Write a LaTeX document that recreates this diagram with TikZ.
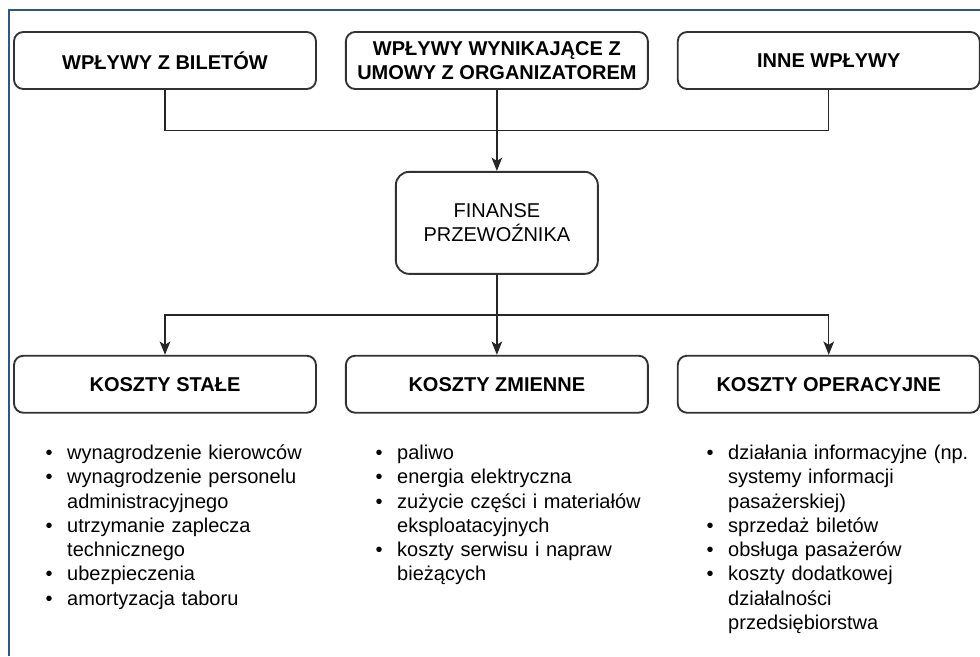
\documentclass[tikz,border=0pt]{standalone}
\usepackage{fontspec}
\setmainfont{Liberation Sans}
\usetikzlibrary{positioning,calc,arrows.meta}

\definecolor{ramka}{RGB}{45,85,140}
\definecolor{krawedz}{RGB}{50,50,50}

\newenvironment{punkty}{\begin{list}{\textbullet}{\setlength\leftmargin{17pt}\setlength\labelwidth{6pt}\setlength\labelsep{11pt}\setlength\itemsep{0pt}\setlength\parsep{0pt}\setlength\topsep{0pt}\setlength\partopsep{0pt}}}{\end{list}}

\begin{document}
\begin{tikzpicture}[x=0.75pt, y=-0.75pt, font=\fontsize{15pt}{18pt}\selectfont,
    naglowek/.style={rectangle, draw=krawedz, line width=1.4pt, rounded corners=7pt, minimum width=226.5pt, minimum height=42.75pt, inner sep=0pt, align=center, font=\fontsize{15pt}{18pt}\selectfont\bfseries},
    srodek/.style={rectangle, draw=krawedz, line width=1.4pt, rounded corners=10pt, minimum width=151.5pt, minimum height=76.5pt, inner sep=0pt, align=center},
    linia/.style={draw, line width=1.1pt, black!85},
    strzalka/.style={linia, -{Stealth[length=10pt, width=8pt, inset=2.5pt]}},
    lista/.style={anchor=north west, text width=240pt, align=left, inner sep=0pt, font=\fontsize{15pt}{18.2pt}\selectfont}]

    \useasboundingbox (0,0) rectangle (980,656);
    \draw[ramka, line width=1.1pt] (9,656) -- (9,10) -- (980,10);

    \node[naglowek] (bilety) at (165,60.5) {WPŁYWY Z BILETÓW};
    \node[naglowek, right=21pt of bilety] (umowa) {WPŁYWY WYNIKAJĄCE Z\\UMOWY Z ORGANIZATOREM};
    \node[naglowek, right=21pt of umowa] (inne) {INNE WPŁYWY};

    \node[srodek, below=60.75pt of umowa] (finanse) {FINANSE\\PRZEWOŹNIKA};

    \node[naglowek, below=60pt of finanse] (zmienne) {KOSZTY ZMIENNE};
    \node[naglowek, left=21pt of zmienne] (stale) {KOSZTY STAŁE};
    \node[naglowek, right=21pt of zmienne] (operacyjne) {KOSZTY OPERACYJNE};

    \coordinate (szyna) at ($(umowa.south)!0.5!(finanse.north)$);
    \draw[linia] (bilety.south) |- (szyna) -| (inne.south);
    \draw[strzalka] (umowa.south) -- (finanse.north);

    \coordinate (rozgalezienie) at ($(finanse.south)!0.5!(zmienne.north)$);
    \draw[linia] (finanse.south) -- (rozgalezienie);
    \draw[strzalka] (rozgalezienie) -| (stale.north);
    \draw[strzalka] (rozgalezienie) -- (zmienne.north);
    \draw[strzalka] (rozgalezienie) -| (operacyjne.north);

    \node[lista] (lista stale) at (44.3,435) {\begin{punkty}
        \item wynagrodzenie kierowców
        \item wynagrodzenie personelu\newline administracyjnego
        \item utrzymanie zaplecza\newline technicznego
        \item ubezpieczenia
        \item amortyzacja taboru
    \end{punkty}};
    \node[lista] (lista zmienne) at (374.3,435) {\begin{punkty}
        \item paliwo
        \item energia elektryczna
        \item zużycie części i materiałów\newline eksploatacyjnych
        \item koszty serwisu i napraw\newline bieżących
    \end{punkty}};
    \node[lista] (lista operacyjne) at (705.3,435) {\begin{punkty}
        \item działania informacyjne (np.\newline systemy informacji\newline pasażerskiej)
        \item sprzedaż biletów
        \item obsługa pasażerów
        \item koszty dodatkowej\newline działalności\newline przedsiębiorstwa
    \end{punkty}};

\end{tikzpicture}
\end{document}
